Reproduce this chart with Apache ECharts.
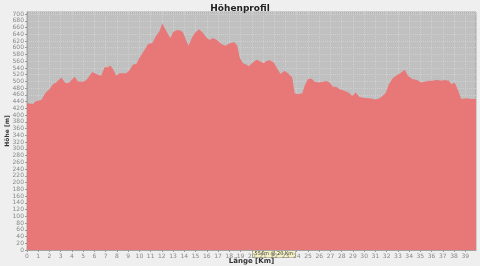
<!DOCTYPE html>
<html>
<head>
<meta charset="utf-8">
<script src="https://cdn.jsdelivr.net/npm/echarts@6/dist/echarts.min.js"></script>
<style>html,body{margin:0;padding:0;background:#efefef;}#c{width:480px;height:266px;}</style>
</head>
<body>
<div id="c"></div>
<script>
const distKm = [0.0,0.09,0.53,0.77,1.27,1.57,1.72,2.0,2.31,2.6,3.05,3.44,3.73,4.24,4.54,4.98,5.28,5.81,6.32,6.6,6.9,7.2,7.41,7.65,7.94,8.24,8.83,9.13,9.43,9.72,10.02,10.32,10.77,11.15,11.5,11.8,12.04,12.39,12.75,12.99,13.28,13.58,13.88,14.17,14.38,14.62,14.91,15.3,15.6,15.95,16.25,16.55,16.9,17.29,17.67,18.03,18.47,18.71,18.92,19.22,19.51,19.75,20.11,20.46,20.85,21.09,21.29,21.58,21.94,22.24,22.56,22.92,23.22,23.6,23.81,24.1,24.49,24.7,25.0,25.29,25.59,25.98,26.33,26.63,26.92,27.22,27.52,27.81,28.11,28.41,28.7,28.94,29.24,29.59,30.04,30.48,30.84,31.23,31.52,31.9,32.2,32.56,32.92,33.21,33.6,33.9,34.28,34.7,35.08,35.46,35.82,36.17,36.41,36.86,37.15,37.54,37.75,38.04,38.28,38.64,39.08,39.53,39.95];
const elevation = [435,435,433,441,445,462,469,477,492,497,512,495,496,514,500,499,504,528,520,517,542,542,547,537,517,524,524,534,550,552,571,586,611,614,636,650,672,650,628,646,652,652,646,621,606,626,643,655,646,631,623,629,623,611,606,613,616,606,571,554,550,545,557,564,558,554,561,563,557,540,522,532,524,512,465,462,465,487,507,509,499,497,499,501,497,484,484,477,474,470,465,457,467,454,451,450,447,448,454,465,492,510,519,524,535,517,507,504,497,500,502,502,505,502,504,502,492,497,480,448,450,448,448];
const chartTitle = 'Höhenprofil';
const xName = 'Länge [Km]';
const yName = 'Höhe [m]';
const markerText = '554m @ 20 Km';

const pts = distKm.map((d, i) => [d, elevation[i]]);
const chart = echarts.init(document.getElementById('c'));
chart.setOption({
  backgroundColor: '#efefef',
  animation: false,
  title: {
    text: chartTitle, left: 'center', top: -1,
    textStyle: {fontFamily: 'DejaVu Sans', fontSize: 9, fontWeight: 'bold', color: '#222'}
  },
  grid: {
    left: 27, right: 4, top: 12, bottom: 16,
    containLabel: false, outerBoundsMode: 'none',
    show: true, backgroundColor: '#c0c0c0', borderColor: '#a4a4a4', borderWidth: 1
  },
  xAxis: {
    type: 'value', min: 0, max: 39.95, interval: 1,
    name: xName, nameLocation: 'middle', nameGap: 8, nameMoveOverlap: false,
    nameTextStyle: {fontFamily: 'DejaVu Sans', fontSize: 7, fontWeight: 'bold', color: '#333'},
    axisLine: {show: true, lineStyle: {color: '#a4a4a4'}},
    axisTick: {show: true, length: 2, lineStyle: {color: '#999'}},
    axisLabel: {showMaxLabel: false, fontFamily: 'DejaVu Sans', fontSize: 6, color: '#888', margin: 3},
    splitLine: {show: true, lineStyle: {color: '#cfcfcf', width: 1, type: [1, 1]}}
  },
  yAxis: {
    type: 'value', min: 0, max: 706, interval: 20,
    name: yName, nameLocation: 'middle', nameGap: 17, nameRotate: 90, nameMoveOverlap: false,
    nameTextStyle: {fontFamily: 'DejaVu Sans', fontSize: 6, fontWeight: 'bold', color: '#333'},
    axisLine: {show: true, lineStyle: {color: '#a4a4a4'}},
    axisTick: {show: true, length: 2, lineStyle: {color: '#999'}},
    axisLabel: {showMaxLabel: false, fontFamily: 'DejaVu Sans', fontSize: 6, color: '#888', margin: 3},
    splitLine: {show: true, lineStyle: {color: '#cfcfcf', width: 1, type: [1, 1]}}
  },
  series: [{
    type: 'line', data: pts, showSymbol: false, smooth: false,
    lineStyle: {width: 0},
    areaStyle: {color: '#e87878', opacity: 1}
  }],
  graphic: [{
    type: 'text', left: 252, top: 250,
    style: {
      text: markerText, fontFamily: 'DejaVu Sans', fontSize: 5, fill: '#333',
      backgroundColor: '#f4f0c0', borderColor: '#888', borderWidth: 0.5, padding: [1, 2]
    }
  }]
});
</script>
</body>
</html>
